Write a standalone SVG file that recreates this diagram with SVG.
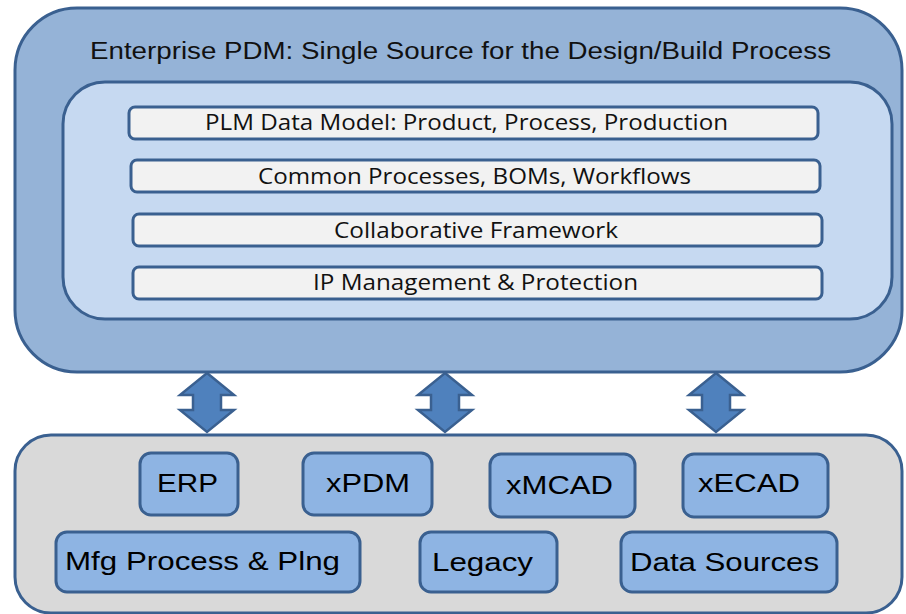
<svg xmlns="http://www.w3.org/2000/svg" width="906" height="614" viewBox="0 0 906 614">
  <defs>
    <style>
      .frame { stroke: #3a6090; stroke-width: 3; }
      .outer { fill: #95b3d7; }
      .inner { fill: #c6d9f1; }
      .bar { fill: #f2f2f2; stroke: #3a6090; stroke-width: 3; }
      .base { fill: #d9d9d9; }
      .sys { fill: #8eb4e3; stroke: #3a6090; stroke-width: 3; }
      .arrow { fill: #4f81bd; stroke: #3a6090; stroke-width: 2.5; stroke-linejoin: miter; }
      .title { font-family: "Liberation Sans", Arial, sans-serif; font-size: 23px; fill: #111; }
      .layer { font-family: "Open Sans", "Noto Sans", sans-serif; font-size: 21px; fill: #111; text-anchor: middle; }
      .sysText { font-family: "Liberation Sans", Arial, sans-serif; font-size: 26px; fill: #000; }
    </style>
    <!-- double-headed vertical arrow centred on x=0, from y=0 to y=59 -->
    <path id="dbl" d="M0,0 L27,22 L14,22 L14,37 L27,37 L0,59 L-27,37 L-14,37 L-14,22 L-27,22 Z"/>
  </defs>

  <!-- Enterprise PDM container -->
  <g id="enterprise-pdm">
    <rect class="outer frame" x="15" y="8" width="887" height="364" rx="62" ry="62"/>
    <text class="title" x="90" y="59" textLength="741" lengthAdjust="spacingAndGlyphs">Enterprise PDM: Single Source for the Design/Build Process</text>
  </g>

  <g id="pdm-core">
    <rect class="inner frame" x="63" y="82" width="829" height="237" rx="42" ry="42"/>
  </g>

  <g id="plm-data-model">
    <rect class="bar" x="129" y="107" width="689" height="32" rx="6" ry="6"/>
    <text class="layer" x="466.5" y="130" textLength="523" lengthAdjust="spacingAndGlyphs">PLM Data Model:  Product, Process, Production</text>
  </g>
  <g id="common-processes">
    <rect class="bar" x="131" y="160" width="689" height="32" rx="6" ry="6"/>
    <text class="layer" x="474.5" y="184" textLength="433" lengthAdjust="spacingAndGlyphs">Common Processes, BOMs, Workflows</text>
  </g>
  <g id="collaborative-framework">
    <rect class="bar" x="133" y="214" width="689" height="32" rx="6" ry="6"/>
    <text class="layer" x="476" y="237.5" textLength="284" lengthAdjust="spacingAndGlyphs">Collaborative Framework</text>
  </g>
  <g id="ip-management">
    <rect class="bar" x="133" y="267" width="689" height="32" rx="6" ry="6"/>
    <text class="layer" x="475.5" y="290" textLength="325" lengthAdjust="spacingAndGlyphs">IP Management &amp; Protection</text>
  </g>

  <!-- Source systems container -->
  <g id="source-systems">
    <rect class="base frame" x="15" y="435" width="887" height="178" rx="36" ry="36"/>
  </g>

  <g id="erp">
    <rect class="sys" x="140" y="453" width="98" height="62" rx="11" ry="11"/>
    <text class="sysText" x="157" y="492" textLength="61" lengthAdjust="spacingAndGlyphs">ERP</text>
  </g>
  <g id="xpdm">
    <rect class="sys" x="303" y="453" width="129" height="62" rx="11" ry="11"/>
    <text class="sysText" x="326" y="492" textLength="84" lengthAdjust="spacingAndGlyphs">xPDM</text>
  </g>
  <g id="xmcad">
    <rect class="sys" x="490" y="454" width="145" height="63" rx="11" ry="11"/>
    <text class="sysText" x="506" y="494" textLength="107" lengthAdjust="spacingAndGlyphs">xMCAD</text>
  </g>
  <g id="xecad">
    <rect class="sys" x="683" y="454" width="145" height="63" rx="11" ry="11"/>
    <text class="sysText" x="698" y="492" textLength="102" lengthAdjust="spacingAndGlyphs">xECAD</text>
  </g>
  <g id="mfg-process">
    <rect class="sys" x="56" y="532" width="304" height="60" rx="11" ry="11"/>
    <text class="sysText" x="65" y="570" textLength="275" lengthAdjust="spacingAndGlyphs">Mfg Process &amp; Plng</text>
  </g>
  <g id="legacy">
    <rect class="sys" x="420" y="532" width="137" height="60" rx="11" ry="11"/>
    <text class="sysText" x="432" y="571" textLength="101" lengthAdjust="spacingAndGlyphs">Legacy</text>
  </g>
  <g id="data-sources">
    <rect class="sys" x="621" y="532" width="216" height="60" rx="11" ry="11"/>
    <text class="sysText" x="630" y="571" textLength="189" lengthAdjust="spacingAndGlyphs">Data Sources</text>
  </g>

  <!-- Connectors between the PDM and the source systems -->
  <g id="connectors">
    <use href="#dbl" class="arrow" x="207" y="373"/>
    <use href="#dbl" class="arrow" x="445" y="373"/>
    <use href="#dbl" class="arrow" x="716" y="373"/>
  </g>
</svg>
